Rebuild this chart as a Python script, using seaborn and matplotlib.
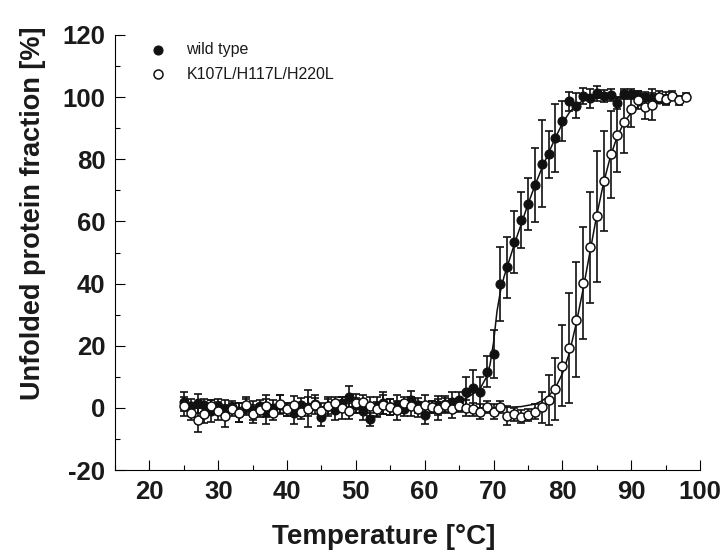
import matplotlib
matplotlib.use("Agg")
import matplotlib.pyplot as plt
from matplotlib.ticker import MultipleLocator
import pandas as pd
import seaborn as sns

# measured points, wild type
temp_wt = list(range(25, 96))
frac_wt = [2.0, 0.5, 1.5, 0.8, -1.0, 0.5, -0.5, 0.3, -1.5, 0.2,
           -0.8, 0.5, -1.2, 0.0, 1.0, -0.5, -1.8, 0.8, 0.4, 1.2,
           -2.8, 0.5, -0.8, 1.5, 3.5, 0.8, -1.0, -3.7, 0.5, 1.5,
           0.2, 1.0, -0.5, 2.5, 0.8, -2.2, 0.3, 0.8, 1.2, 2.0,
           2.5, 5.0, 6.3, 5.0, 11.6, 17.3, 39.9, 45.3, 53.5, 60.5,
           65.6, 71.7, 78.5, 81.6, 86.8, 92.4, 98.6, 97.2, 100.4, 99.6,
           101.2, 100.4, 100.6, 98.2, 101.0, 101.0, 100.5, 100.2, 99.8, 99.5,
           99.3]
err_wt = [3.0, 2.5, 3.0, 2.0, 3.5, 2.5, 3.0, 2.0, 3.0, 2.5,
          3.0, 2.0, 4.0, 2.5, 3.0, 2.0, 3.5, 2.5, 3.0, 2.0,
          3.0, 2.5, 3.0, 2.0, 3.5, 2.5, 3.0, 2.0, 3.0, 3.5,
          2.5, 3.0, 2.0, 3.0, 2.5, 3.0, 2.0, 3.0, 2.5, 3.0,
          2.5, 5.0, 6.0, 5.0, 5.0, 7.8, 12.0, 9.8, 10.0, 9.0,
          8.5, 12.0, 14.0, 7.5, 11.0, 6.5, 3.0, 4.0, 2.5, 3.0,
          2.5, 2.0, 2.0, 2.0, 1.5, 1.5, 1.5, 1.5, 1.5, 1.5,
          1.5]

# measured points, K107L/H117L/H220L
temp_mut = list(range(25, 99))
frac_mut = [0.5, -1.5, -3.9, -2.0, 0.5, -1.0, -2.5, -0.5, -1.5, 1.0,
            -2.0, -0.8, 0.5, -1.5, 1.2, -0.5, 0.8, -1.2, -0.3, 1.0,
            -1.0, 0.5, 1.5, 0.0, -1.0, 1.5, 2.0, 0.5, -0.5, 1.0,
            0.3, -0.8, 1.5, 0.5, -0.5, 1.0, 0.2, -0.5, 0.8, -0.3,
            0.6, 0.0, -0.5, -1.2, 0.3, -1.2, 0.3, -2.5, -2.1, -2.8,
            -2.3, -1.2, 0.2, 2.5, 6.1, 13.6, 19.2, 28.3, 40.3, 51.7,
            61.6, 73.0, 81.7, 87.8, 92.1, 96.1, 99.1, 96.9, 97.5, 100.0,
            99.5, 100.5, 99.0, 100.2]
err_mut = [3.0, 2.5, 4.0, 3.0, 2.0, 3.0, 3.5, 2.0, 3.0, 2.5,
           3.0, 2.0, 3.5, 2.5, 3.0, 2.0, 3.0, 2.5, 6.0, 3.0,
           2.5, 3.0, 2.0, 3.5, 2.5, 3.0, 2.0, 3.0, 2.5, 3.0,
           2.5, 3.0, 2.0, 3.0, 2.5, 3.0, 2.0, 3.5, 2.5, 3.0,
           2.0, 2.5, 2.0, 2.5, 2.0, 2.5, 2.0, 3.0, 2.0, 2.0,
           2.0, 2.5, 5.0, 8.0, 10.0, 13.0, 17.7, 18.5, 18.0, 17.8,
           21.0, 16.0, 14.0, 12.0, 10.0, 5.6, 3.0, 4.0, 5.0, 2.0,
           2.0, 1.5, 1.5, 1.0]

# fitted curves
fit_wt_t = [25, 60, 64, 66, 67, 68, 69, 69.5, 70, 70.5, 71, 71.5, 72, 73, 74, 75,
            76, 77, 78, 79, 80, 81, 82, 83, 85, 88, 95]
fit_wt_y = [0, 0.5, 1.5, 3, 4.5, 6, 10, 14, 21, 31, 37.5, 42, 45.5, 52.5, 59, 65.5,
            71.5, 77, 82, 87, 91.5, 95, 97.5, 98.8, 99.6, 100, 100]
fit_mut_t = [25, 70, 74, 76, 77, 78, 79, 80, 81, 82, 83, 84, 85, 86, 87, 88,
             89, 90, 91, 92, 94, 98]
fit_mut_y = [0, 0, 0.4, 1.2, 2.2, 3.8, 6.5, 11, 17.5, 27, 38, 50, 62, 72.5, 81, 87.5,
             92, 95, 97, 98.3, 99.5, 100]

df_wt = pd.DataFrame({"T": temp_wt, "f": frac_wt, "e": err_wt})
df_mut = pd.DataFrame({"T": temp_mut, "f": frac_mut, "e": err_mut})

sns.set_style("ticks")
plt.rcParams["font.family"] = ["Liberation Sans", "DejaVu Sans"]
plt.rcParams["axes.unicode_minus"] = False

fig = plt.figure(figsize=(7.28, 5.58), dpi=100)
ax = fig.add_axes([115 / 728, 88 / 558, 585 / 728, 435 / 558])

# error bars
for d in (df_wt, df_mut):
    ax.errorbar(d["T"], d["f"], yerr=d["e"], fmt="none", ecolor="#111111",
                elinewidth=1.2, capsize=3, capthick=1.2, zorder=1)

# fit lines
sns.lineplot(x=fit_wt_t, y=fit_wt_y, color="#111111", linewidth=1.1, ax=ax, zorder=2)
sns.lineplot(x=fit_mut_t, y=fit_mut_y, color="#111111", linewidth=1.1, ax=ax, zorder=2)

# points
sns.scatterplot(data=df_wt, x="T", y="f", color="#111111", edgecolor="#111111",
                s=42, linewidth=0.8, ax=ax, zorder=3, label="wild type")
sns.scatterplot(data=df_mut, x="T", y="f", color="white", edgecolor="#111111",
                s=42, linewidth=1.1, ax=ax, zorder=4, label="K107L/H117L/H220L")

ax.set_xlim(15, 100)
ax.set_ylim(-20, 120)
ax.xaxis.set_major_locator(MultipleLocator(10))
ax.xaxis.set_minor_locator(MultipleLocator(5))
ax.yaxis.set_major_locator(MultipleLocator(20))
ax.yaxis.set_minor_locator(MultipleLocator(10))
ax.tick_params(which="major", direction="in", length=7, width=0.8, labelsize=18.5, pad=7, color="black")
ax.tick_params(which="minor", direction="in", length=3.5, width=0.8, color="black")
for lab in ax.get_xticklabels() + ax.get_yticklabels():
    lab.set_fontweight("bold")
    lab.set_color("#1a1a1a")
for s in ("top", "right"):
    ax.spines[s].set_visible(False)
for s in ("left", "bottom"):
    ax.spines[s].set_linewidth(0.8)
    ax.spines[s].set_color("black")

ax.set_xlabel("Temperature [°C]", fontsize=20, fontweight="bold", color="#1a1a1a")
ax.set_ylabel("Unfolded protein fraction [%]", fontsize=19.5, fontweight="bold", color="#1a1a1a")
ax.xaxis.set_label_coords(0.46, -0.125)
ax.yaxis.set_label_coords(-0.118, 0.59)

leg = ax.legend(loc="upper left", bbox_to_anchor=(0.059, 0.984), frameon=False, fontsize=11.5,
                borderpad=0, borderaxespad=0, handlelength=1.0, handletextpad=1.3,
                labelspacing=0.6, markerscale=1.0)
for t in leg.get_texts():
    t.set_color("#1a1a1a")

fig.savefig("out.png", dpi=100)
